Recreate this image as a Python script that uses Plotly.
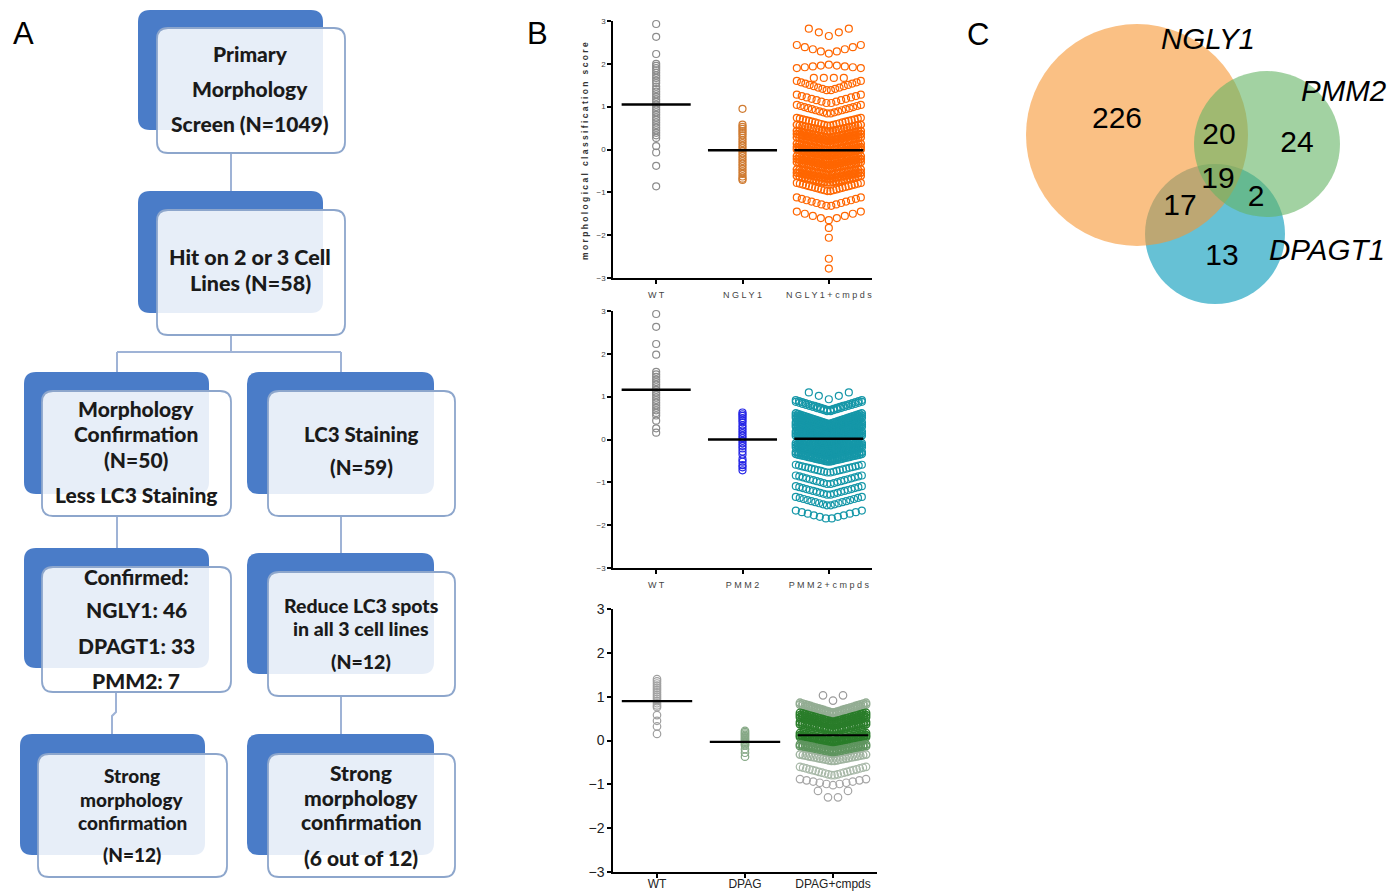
import plotly.graph_objects as go

W, H = 1400, 892

# ------------------------------------------------------------------ data
# Panel B – top (NGLY1)
CATS_TOP = ["W T", "N G L Y 1", "N G L Y 1 + c m p d s"]
WT_TOP = [2.93, 2.63, 2.23, 2.00, 1.95, 1.90, 1.85, 1.79, 1.73, 1.67, 1.61, 1.55,
          1.47, 1.41, 1.35, 1.29, 1.23, 1.17, 1.11, 1.05, 0.99, 0.93, 0.87, 0.81,
          0.75, 0.69, 0.63, 0.57, 0.51, 0.45, 0.39, 0.33, 0.27, 0.08, -0.07, -0.38, -0.86]
NGLY1_TOP = [0.95, 0.58, 0.53, 0.48, 0.43, 0.38, 0.33, 0.27, 0.21, 0.15, 0.09, 0.03,
             -0.03, -0.09, -0.15, -0.21, -0.27, -0.33, -0.39, -0.45, -0.51, -0.57,
             -0.63, -0.68, -0.71]
# NGLY1+cmpds swarm rows: value at row edge, value at row centre, number of wells
NGLY1C_EDGE = [2.82, 2.44, 1.90, 1.67, 1.60, 1.28, 1.04, 0.74, 0.58, 0.44, 0.36,
               0.28, 0.14, 0.06, 0.00, -0.15, -0.22, -0.30, -0.46, -0.54, -0.62,
               -0.78, -1.12, -1.45, -1.83, -2.06, -2.55, -2.78]
NGLY1C_CENTER = [2.65, 2.24, 1.98, 1.67, 1.37, 1.07, 0.83, 0.55, 0.42, 0.27, 0.20,
                 0.12, -0.03, -0.10, -0.16, -0.30, -0.37, -0.45, -0.60, -0.68, -0.78,
                 -0.98, -1.33, -1.65, -1.83, -2.06, -2.55, -2.78]
NGLY1C_N = [5, 9, 9, 4, 16, 14, 18, 22, 24, 26, 26, 26, 28, 28, 28, 28, 28, 28,
            26, 26, 24, 22, 14, 9, 1, 1, 1, 1]
MED_TOP = [1.05, -0.02, -0.02]

# Panel B – middle (PMM2)
CATS_MID = ["W T", "P M M 2", "P M M 2 + c m p d s"]
WT_MID = [2.93, 2.63, 2.23, 1.98, 1.58, 1.52, 1.46, 1.40, 1.34, 1.28, 1.22, 1.16,
          1.10, 1.04, 0.98, 0.92, 0.86, 0.80, 0.74, 0.68, 0.62, 0.56, 0.44, 0.26, 0.16]
PMM2_MID = [0.63, 0.59, 0.55, 0.50, 0.45, 0.40, 0.33, 0.27, 0.21, 0.15, 0.09, 0.03,
            -0.03, -0.09, -0.15, -0.21, -0.28, -0.35, -0.46, -0.52, -0.60, -0.65, -0.72]
PMM2C_EDGE = [1.10, 0.92, 0.88, 0.61, 0.56, 0.51, 0.40, 0.35, 0.30, 0.19, 0.14, 0.09,
              -0.08, -0.13, -0.18, -0.29, -0.34, -0.59, -0.84, -1.09, -1.34, -1.66]
PMM2C_CENTER = [0.94, 0.68, 0.65, 0.36, 0.32, 0.28, 0.16, 0.12, 0.08, -0.03, -0.07,
                -0.11, -0.25, -0.30, -0.34, -0.48, -0.52, -0.78, -1.05, -1.30, -1.55, -1.86]
PMM2C_N = [5, 22, 20, 30, 30, 28, 30, 30, 28, 30, 30, 28, 30, 30, 28, 28, 28,
           22, 20, 20, 18, 12]
MED_MID = [1.16, 0.00, 0.02]

# Panel B – bottom (DPAGT1)
CATS_BOT = ["WT", "DPAG", "DPAG+cmpds"]
WT_BOT = [1.40, 1.35, 1.30, 1.25, 1.20, 1.15, 1.10, 1.05, 1.00, 0.95, 0.90, 0.85,
          0.80, 0.76, 0.58, 0.45, 0.32, 0.15]
DPAG_BOT = [0.22, 0.19, 0.16, 0.13, 0.10, 0.07, 0.04, 0.01, -0.02, -0.05, -0.08,
            -0.11, -0.20, -0.28, -0.37]
DPAGC_EDGE = [1.03, 0.86, 0.82, 0.63, 0.58, 0.53, 0.42, 0.37, 0.17, 0.12, 0.08,
              -0.09, -0.13, -0.32, -0.60, -0.88, -1.15]
DPAGC_CENTER = [0.91, 0.63, 0.60, 0.42, 0.38, 0.34, 0.24, 0.20, -0.01, -0.05, -0.08,
                -0.24, -0.28, -0.47, -0.80, -1.02, -1.37]
DPAGC_N = [3, 26, 26, 28, 28, 28, 28, 28, 28, 28, 28, 26, 26, 24, 22, 11, 4]
MED_BOT = [0.90, -0.03, 0.12]

Y_TICKS = [-3, -2, -1, 0, 1, 2, 3]

# Panel C – Venn
VENN_LABELS = ["NGLY1", "PMM2", "DPAGT1"]
VENN_REGIONS = ["NGLY1 only", "NGLY1&PMM2", "PMM2 only", "all three",
                "PMM2&DPAGT1", "NGLY1&DPAGT1", "DPAGT1 only"]
VENN_COUNTS = [226, 20, 24, 19, 2, 17, 13]

# Panel A – flowchart texts
BOX_TEXTS = [
    ["Primary", "Morphology", "Screen (N=1049)"],
    ["Hit on 2 or 3 Cell", "Lines (N=58)"],
    ["Morphology", "Confirmation", "(N=50)", "Less LC3 Staining"],
    ["LC3 Staining", "(N=59)"],
    ["Confirmed:", "NGLY1: 46", "DPAGT1: 33", "PMM2: 7"],
    ["Reduce LC3 spots", "in all 3 cell lines", "(N=12)"],
    ["Strong", "morphology", "confirmation", "(N=12)"],
    ["Strong", "morphology", "confirmation", "(6 out of 12)"],
]

# ------------------------------------------------------------------ layout constants (pixels)
BOX_BACK = [(138, 10, 323, 130), (138, 191, 323, 313), (24, 372, 209, 494),
            (247, 372, 434, 494), (24, 548, 209, 668), (247, 553, 434, 674),
            (20, 734, 205, 855), (247, 734, 434, 855)]
BOX_FRONT = [(157, 28, 345, 153), (157, 210, 345, 335), (42, 391, 231, 516),
             (268, 391, 455, 516), (42, 567, 231, 692), (268, 572, 455, 696),
             (38, 754, 227, 877), (268, 754, 455, 877)]
BOX_CX = [250, 250, 136, 361, 136, 361, 132, 361]
BOX_LINE_Y = [[53, 88, 123], [257, 283], [408, 433, 459, 494], [434, 467],
              [576, 609, 645, 680], [605, 628, 661], [775, 799, 822, 854],
              [772, 797, 821, 857]]
BOX_FS = [21, 21.5, 21, 20.5, 21, 19.5, 19, 21]
CONNECTORS = [
    [(231, 153), (231, 193)],
    [(231, 335), (231, 352)],
    [(117, 352), (341, 352)],
    [(117, 352), (117, 372)],
    [(341, 352), (341, 372)],
    [(117, 516), (117, 548)],
    [(341, 516), (341, 553)],
    [(116, 692), (116, 712), (112, 716), (112, 734)],
    [(341, 696), (341, 734)],
]

VENN_CIRCLES = {  # centre x, centre y, radius, fill
    "DPAGT1": (1215, 234, 70, "rgba(20,160,190,0.65)"),
    "NGLY1": (1137, 135, 111, "rgba(247,150,50,0.60)"),
    "PMM2": (1267, 144, 73, "rgba(100,180,100,0.60)"),
}
VENN_NUM_POS = [(1117, 120), (1219, 136), (1297, 144), (1218, 180), (1256, 198),
                (1180, 207), (1222, 257)]
VENN_LABEL_POS = [(1208, 38), (1343, 90), (1327, 249)]

# ------------------------------------------------------------------ helpers
def swarm(edges, centers, counts, cat, px_per_cat, max_step=10.0, half_px=32.0,
          thin=1.2, thick=1.5):
    xs, ys, ws = [], [], []
    for e, c, n in zip(edges, centers, counts):
        w = thick if n >= 24 else thin
        if n == 1:
            xs.append(cat)
            ys.append(c)
            ws.append(w)
            continue
        hs = (n - 1) / 2.0
        step = min(max_step, half_px / hs)
        for k in range(n):
            off = k - hs
            xs.append(cat + off * step / px_per_cat)
            ys.append(c + (e - c) * abs(off) / hs)
            ws.append(w)
    return xs, ys, ws


def rrect(x0, y0, x1, y1, r):
    return (f"M{x0 + r},{y0} L{x1 - r},{y0} Q{x1},{y0} {x1},{y0 + r} "
            f"L{x1},{y1 - r} Q{x1},{y1} {x1 - r},{y1} L{x0 + r},{y1} "
            f"Q{x0},{y1} {x0},{y1 - r} L{x0},{y0 + r} Q{x0},{y0} {x0 + r},{y0} Z")


fig = go.Figure()

def pts(x, y, color, size, axes, lw=1.2):
    xa, ya = axes
    fig.add_trace(go.Scatter(
        x=x, y=y, mode="markers", xaxis=xa, yaxis=ya, cliponaxis=False,
        hoverinfo="skip", showlegend=False,
        marker=dict(symbol="circle-open", size=size, color=color,
                    line=dict(width=lw, color=color))))

def medians(meds, axes, width):
    xa, ya = axes
    xs, ys = [], []
    for i, m in enumerate(meds):
        xs += [i - 0.4, i + 0.4, None]
        ys += [m, m, None]
    fig.add_trace(go.Scatter(x=xs, y=ys, mode="lines", xaxis=xa, yaxis=ya,
                             line=dict(color="black", width=width),
                             hoverinfo="skip", showlegend=False))

# ------------------------------------------------------------------ panel B traces
PX_TOP = (872 - 613) / 3.0
PX_BOT = (877 - 613) / 3.0

# top
pts([0] * len(WT_TOP), WT_TOP, "#8c8c8c", 7, ("x", "y"))
pts([1] * len(NGLY1_TOP), NGLY1_TOP, "#cf7a30", 7, ("x", "y"))
sx, sy, sw = swarm(NGLY1C_EDGE, NGLY1C_CENTER, NGLY1C_N, 2, PX_TOP)
pts(sx, sy, "#ff6600", 7, ("x", "y"), lw=sw)
medians(MED_TOP, ("x", "y"), 2.5)

# middle
pts([0] * len(WT_MID), WT_MID, "#8c8c8c", 7, ("x2", "y2"))
pts([1] * len(PMM2_MID), PMM2_MID, "#2626e6", 7, ("x2", "y2"))
sx, sy, sw = swarm(PMM2C_EDGE, PMM2C_CENTER, PMM2C_N, 2, PX_TOP, half_px=33)
pts(sx, sy, "#1597a8", 7, ("x2", "y2"), lw=sw)
medians(MED_MID, ("x2", "y2"), 2.5)

# bottom
DPAGC_COLORS = ["#9a9a9a", "#93ad93", "#93ad93", "#2a7d2a", "#2a7d2a", "#2a7d2a",
                "#2a7d2a", "#2a7d2a", "#2a7d2a", "#2a7d2a", "#2a7d2a", "#5f955f",
                "#5f955f", "#a0b4a0", "#a9b9a9", "#a6a6a6", "#a6a6a6"]
pts([0] * len(WT_BOT), WT_BOT, "#a0a0a0", 7.5, ("x3", "y3"))
pts([1] * len(DPAG_BOT), DPAG_BOT, "#86a886", 7.5, ("x3", "y3"))
for i in range(len(DPAGC_N)):
    sx, sy, sw = swarm([DPAGC_EDGE[i]], [DPAGC_CENTER[i]], [DPAGC_N[i]], 2, PX_BOT,
                       half_px=33, thick=1.4)
    pts(sx, sy, DPAGC_COLORS[i], 7.5, ("x3", "y3"), lw=sw)
medians(MED_BOT, ("x3", "y3"), 2.2)

# ------------------------------------------------------------------ panel C numbers (pixel canvas axes)
fig.add_trace(go.Scatter(
    x=[p[0] for p in VENN_NUM_POS], y=[p[1] for p in VENN_NUM_POS],
    text=[str(v) for v in VENN_COUNTS], mode="text", xaxis="x4", yaxis="y4",
    textfont=dict(family="Arial", size=30, color="black"),
    hoverinfo="skip", showlegend=False))

# ------------------------------------------------------------------ shapes
shapes = []
for pts_ in CONNECTORS:
    path = "M" + " L".join(f"{x},{y}" for x, y in pts_)
    shapes.append(dict(type="path", path=path, xref="x4", yref="y4",
                       line=dict(color="#9fb3d6", width=2), layer="above"))
for b, f in zip(BOX_BACK, BOX_FRONT):
    shapes.append(dict(type="path", path=rrect(*b, 12), xref="x4", yref="y4",
                       fillcolor="#4a7cc8", line=dict(width=0), layer="above"))
    shapes.append(dict(type="path", path=rrect(*f, 11), xref="x4", yref="y4",
                       fillcolor="rgba(255,255,255,0.87)",
                       line=dict(color="#8da6cc", width=1.8), layer="above"))
for name in ["DPAGT1", "NGLY1", "PMM2"]:
    cx, cy, r, col = VENN_CIRCLES[name]
    shapes.append(dict(type="circle", xref="x4", yref="y4", x0=cx - r, x1=cx + r,
                       y0=cy - r, y1=cy + r, fillcolor=col, line=dict(width=0),
                       layer="below"))

# ------------------------------------------------------------------ annotations
ann = []
for txts, cx, ys, fs in zip(BOX_TEXTS, BOX_CX, BOX_LINE_Y, BOX_FS):
    for t, y in zip(txts, ys):
        ann.append(dict(text=t, x=cx, y=y, xref="x4", yref="y4", showarrow=False,
                        xanchor="center", yanchor="middle",
                        font=dict(family="Lato", size=fs, color="#1a1a1a", weight=900)))
for t, (x, y) in zip(["A", "B", "C"], [(23, 33), (537, 33), (978, 34)]):
    ann.append(dict(text=t, x=x, y=y, xref="x4", yref="y4", showarrow=False,
                    xanchor="center", yanchor="middle",
                    font=dict(family="Arial", size=31, color="black")))
for t, (x, y) in zip(VENN_LABELS, VENN_LABEL_POS):
    ann.append(dict(text=f"<i>{t}</i>", x=x, y=y, xref="x4", yref="y4", showarrow=False,
                    xanchor="center", yanchor="middle",
                    font=dict(family="Arial", size=29.5, color="black")))
ann.append(dict(text="<b>m o r p h o l o g i c a l   c l a s s i f i c a t i o n   s c o r e</b>",
                x=585, y=151, xref="x4", yref="y4", showarrow=False, textangle=-90,
                xanchor="center", yanchor="middle",
                font=dict(family="Arial", size=8.5, color="#333")))

# ------------------------------------------------------------------ axes
def xax(dom, cats, fs, col, lw, standoff):
    return dict(domain=dom, range=[-0.5, 2.5], tickvals=[0, 1, 2], ticktext=cats,
                showline=True, linecolor="black", linewidth=lw, ticks="outside",
                ticklen=4, tickwidth=lw, tickcolor="black", showgrid=False,
                zeroline=False, fixedrange=True, ticklabelstandoff=standoff,
                automargin=False,
                tickfont=dict(family="Arial", size=fs, color=col))

def yax(dom, fs, col, lw):
    return dict(domain=dom, range=[-3, 3], tickvals=Y_TICKS,
                showline=True, linecolor="black", linewidth=lw, ticks="outside",
                ticklen=4, tickwidth=lw, tickcolor="black", showgrid=False,
                zeroline=False, fixedrange=True, automargin=False,
                tickfont=dict(family="Arial", size=fs, color=col))

fig.update_layout(
    width=W, height=H, margin=dict(l=0, r=0, t=0, b=0, pad=0, autoexpand=False),
    paper_bgcolor="white", plot_bgcolor="rgba(0,0,0,0)", showlegend=False,
    xaxis=dict(xax([613 / W, 872 / W], CATS_TOP, 9, "#444", 1.5, 3), anchor="y"),
    yaxis=dict(yax([1 - 278 / H, 1 - 21 / H], 8, "#444", 1.5), anchor="x"),
    xaxis2=dict(xax([613 / W, 872 / W], CATS_MID, 9, "#444", 1.5, 3), anchor="y2"),
    yaxis2=dict(yax([1 - 568 / H, 1 - 311 / H], 8, "#444", 1.5), anchor="x2"),
    xaxis3=dict(xax([613 / W, 877 / W], CATS_BOT, 12, "#222", 1.5, -4), anchor="y3"),
    yaxis3=dict(yax([1 - 872 / H, 1 - 609 / H], 14, "#222", 1.5), anchor="x3"),
    xaxis4=dict(domain=[0, 1], range=[0, W], visible=False, fixedrange=True,
                anchor="y4", automargin=False),
    yaxis4=dict(domain=[0, 1], range=[H, 0], visible=False, fixedrange=True,
                anchor="x4", automargin=False),
    shapes=shapes, annotations=ann,
)

fig.write_html("out.html", include_plotlyjs=True, full_html=True,
               config={"displayModeBar": False},
               post_script="document.body.style.margin='0px';")
